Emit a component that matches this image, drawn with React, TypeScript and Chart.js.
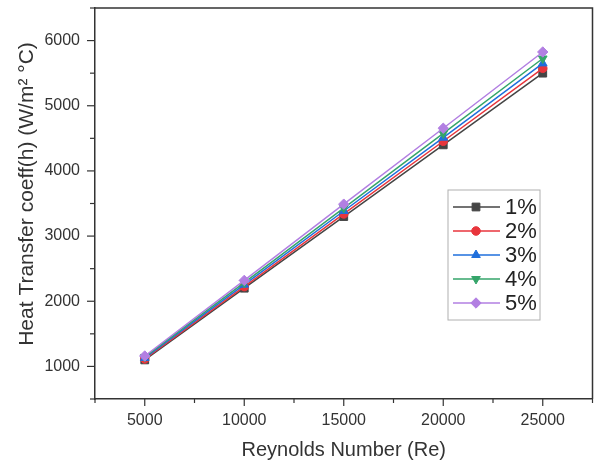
import React, { useEffect, useRef } from "react";
import { Chart, registerables } from "chart.js";
import { drawPoint } from "chart.js/helpers";

Chart.register(...registerables);

const reynolds = [5000, 10000, 15000, 20000, 25000];
const seriesLabels = ["1%", "2%", "3%", "4%", "5%"];
const h1 = [1100, 2200, 3300, 4400, 5500];
const h2 = [1115, 2225, 3340, 4455, 5575];
const h3 = [1130, 2255, 3385, 4510, 5650];
const h4 = [1145, 2285, 3430, 4575, 5725];
const h5 = [1160, 2320, 3490, 4655, 5825];
const seriesValues = [h1, h2, h3, h4, h5];
const colors = ["#454545", "#e8353c", "#1f6fdc", "#35a56a", "#b27fe2"];
const markers = ["rect", "circle", "triangle", "triangle", "rectRot"];
const rotations = [0, 0, 0, 180, 0];
const radii = [5.5, 4.3, 5, 5, 5.2];
const yTitle = "Heat Transfer coeff(h) (W/m\u00B2 \u00B0C)";
const xTitle = "Reynolds Number (Re)";

const FONT = "'Liberation Sans', Arial, sans-serif";
const AXIS = "#333333";

const framePlugin = {
  id: "frame",
  afterDraw(chart: any) {
    const { ctx, chartArea, scales } = chart;
    const xs = scales.x;
    const ys = scales.y;
    ctx.save();
    ctx.strokeStyle = AXIS;
    ctx.lineWidth = 1.5;
    ctx.beginPath();
    ctx.moveTo(chartArea.left, chartArea.top);
    ctx.lineTo(chartArea.right, chartArea.top);
    ctx.lineTo(chartArea.right, chartArea.bottom);
    ctx.stroke();
    ctx.lineWidth = 1.2;
    for (let v = 500; v <= 6500; v += 500) {
      const y = ys.getPixelForValue(v);
      const len = v % 1000 === 0 ? 8 : 5;
      ctx.beginPath();
      ctx.moveTo(chartArea.left - len, y);
      ctx.lineTo(chartArea.left, y);
      ctx.stroke();
    }
    for (let v = 2500; v <= 27500; v += 2500) {
      const x = xs.getPixelForValue(v);
      const len = v % 5000 === 0 ? 7 : 4;
      ctx.beginPath();
      ctx.moveTo(x, chartArea.bottom);
      ctx.lineTo(x, chartArea.bottom + len);
      ctx.stroke();
    }
    // y title
    ctx.save();
    ctx.translate(27, 194);
    ctx.rotate(-Math.PI / 2);
    ctx.fillStyle = "#333";
    ctx.font = `21px ${FONT}`;
    ctx.textAlign = "center";
    ctx.textBaseline = "middle";
    ctx.fillText(yTitle, 0, 0);
    ctx.restore();
    // legend
    const bx = 448, by = 190, bw = 92, bh = 130;
    ctx.strokeStyle = "#b0b0b0";
    ctx.lineWidth = 1;
    ctx.strokeRect(bx, by, bw, bh);
    const rowY = [207, 231, 255, 279, 303];
    chart.data.datasets.forEach((ds: any, i: number) => {
      const y = rowY[i];
      ctx.strokeStyle = ds.borderColor;
      ctx.lineWidth = 1.5;
      ctx.beginPath();
      ctx.moveTo(453, y);
      ctx.lineTo(500, y);
      ctx.stroke();
      ctx.fillStyle = ds.backgroundColor;
      ctx.strokeStyle = ds.borderColor;
      ctx.lineWidth = 1;
      drawPoint(ctx, { pointStyle: ds.pointStyle, radius: ds.pointRadius, rotation: ds.pointRotation || 0, borderWidth: 1 } as any, 476, y);
      ctx.fillStyle = "#222";
      ctx.font = `22px ${FONT}`;
      ctx.textBaseline = "middle";
      ctx.textAlign = "left";
      ctx.fillText(ds.label, 505, y + 1);
    });
    ctx.restore();
  },
};

const zeroPad = (s: any) => {
  s.paddingTop = 0;
  s.paddingBottom = 0;
  s.paddingLeft = 0;
  s.paddingRight = 0;
};

export default function App() {
  const ref = useRef<HTMLCanvasElement>(null);
  useEffect(() => {
    if (!ref.current) return;
    const chart = new Chart(ref.current, {
      type: "line",
      data: {
        datasets: seriesValues.map((vals, i) => ({
          label: seriesLabels[i],
          data: reynolds.map((x, j) => ({ x, y: vals[j] })),
          borderColor: colors[i],
          backgroundColor: colors[i],
          borderWidth: 1.5,
          pointStyle: markers[i] as any,
          pointRotation: rotations[i],
          pointRadius: radii[i],
          pointBorderWidth: 1,
          order: 4 - i,
          tension: 0,
        })),
      },
      options: {
        animation: false,
        responsive: false,
        layout: { padding: { top: 8, right: 1, left: 0, bottom: 0 } },
        plugins: { legend: { display: false }, tooltip: { enabled: false } },
        scales: {
          x: {
            type: "linear",
            min: 2500,
            max: 27500,
            grid: { display: false, drawTicks: false },
            border: { display: true, color: AXIS, width: 1.5 },
            ticks: {
              stepSize: 2500,
              autoSkip: false,
              maxRotation: 0,
              padding: 12,
              color: "#333",
              font: { family: FONT, size: 16 },
              callback: (v: any) => (Number(v) % 5000 === 0 ? String(v) : ""),
            },
            title: {
              display: true,
              text: xTitle,
              color: "#333",
              font: { family: FONT, size: 20 },
              padding: { top: 4, bottom: 0 },
            },
            afterFit: (s: any) => {
              s.height = 63;
              zeroPad(s);
            },
          },
          y: {
            type: "linear",
            min: 500,
            max: 6500,
            grid: { display: false, drawTicks: false },
            border: { display: true, color: AXIS, width: 1.5 },
            ticks: {
              stepSize: 500,
              autoSkip: false,
              padding: 15,
              color: "#333",
              font: { family: FONT, size: 16 },
              callback: (v: any) => (Number(v) % 1000 === 0 ? String(v) : ""),
            },
            afterFit: (s: any) => {
              s.width = 95;
              zeroPad(s);
            },
          },
        },
      },
      plugins: [framePlugin],
    });
    return () => chart.destroy();
  }, []);
  return (
    <div style={{ position: "fixed", left: 0, top: 0, width: 599, height: 462, background: "#fff" }}>
      <canvas ref={ref} width={599} height={462} style={{ width: 599, height: 462 }} />
    </div>
  );
}
